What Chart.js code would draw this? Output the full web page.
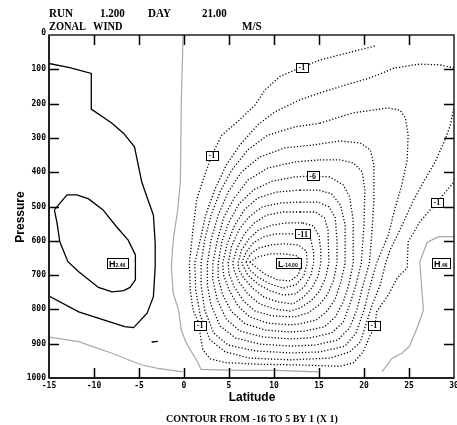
<!DOCTYPE html>
<html>
<head>
<meta charset="utf-8">
<script src="https://cdn.jsdelivr.net/npm/chart.js@4.4.1/dist/chart.umd.min.js"></script>
<style>
  html, body { margin: 0; padding: 0; background: #fff; }
  canvas { display: block; }
</style>
</head>
<body>
<canvas id="chart" width="457" height="425"></canvas>
<script>
'use strict';

// contour lines, each point is [latitude, pressure]
const neg1 = [[21.2,32],[17.3,58],[15.1,73],[12.9,96],[10.7,120],[9.0,160],[7.9,204],[5.9,254],[4.2,292],[3.1,350],[2.3,408],[1.4,481],[1.0,568],[0.6,665],[0.7,743],[1.0,802],[1.6,837],[1.9,889],[2.1,918],[2.9,944],[4.6,955],[8.4,960],[12.9,962],[17.3,966],[18.8,956],[19.9,924],[20.7,875],[21.2,851],[21.4,807],[22.7,758],[23.7,708],[24.8,679],[24.9,603],[26.2,545],[28.1,487],[30,429]]
const neg2 = [[30,96],[28.4,87],[26.2,85],[23.4,96],[20.7,125],[17.9,146],[15.1,169],[12.9,189],[10.1,224],[8.2,262],[6.2,321],[4.7,379],[3.4,452],[2.4,525],[1.8,598],[1.2,665],[1.3,743],[1.8,816],[2.9,889],[4.6,924],[7.3,942],[11.8,947],[16.2,942],[18.4,924],[19.6,895],[20.2,845],[20.9,787],[21.8,729],[22.4,665],[22.9,627],[24.0,568],[25.4,487],[26.6,429],[27.9,370],[29.0,306],[29.6,262],[30,210]]
const neg3 = [[15.1,257],[18.8,227],[22.6,213],[24.0,219],[24.6,242],[24.9,292],[24.8,364],[24.2,437],[23.4,510],[22.7,583],[21.4,665],[20.7,729],[20.0,802],[19.1,869],[17.9,907],[15.1,924],[11.8,927],[7.9,921],[4.9,904],[3.3,869],[2.3,802],[1.9,729],[1.9,665],[2.3,598],[3.0,525],[4.0,458],[5.3,394],[7.1,335],[9.3,292],[12.3,268],[15.1,257]]
const neg4 = [[14.3,321],[17.3,309],[19.6,315],[20.7,335],[21.1,379],[21.1,481],[20.9,568],[20.6,665],[19.9,729],[19.2,802],[18.4,854],[17.1,889],[14.6,904],[11.8,907],[8.4,901],[5.7,883],[4.0,848],[3.0,787],[2.6,729],[2.6,665],[3.0,598],[3.8,525],[4.9,458],[6.4,399],[8.4,356],[11.2,329],[14.3,321]]
const neg5 = [[15.1,364],[17.3,364],[18.8,373],[19.8,399],[20.1,452],[20.0,554],[19.7,665],[19.1,729],[18.4,787],[17.7,837],[16.4,869],[14.0,883],[11.8,886],[8.7,880],[6.2,863],[4.7,828],[3.7,772],[3.2,714],[3.2,665],[3.7,598],[4.4,533],[5.6,475],[7.1,423],[9.3,388],[12.3,370],[15.1,364]]
const neg6 = [[14.3,411],[16.2,414],[17.7,437],[18.4,472],[18.8,539],[18.8,665],[18.3,729],[17.7,778],[16.8,822],[15.6,851],[13.4,863],[11.8,866],[9.0,860],[6.8,842],[5.3,807],[4.3,758],[3.8,708],[3.8,665],[4.2,603],[5.0,545],[6.1,493],[7.7,452],[9.8,426],[12.3,414],[14.3,411]]
const neg7 = [[12.9,452],[14.9,452],[16.4,463],[17.4,496],[17.9,554],[17.9,665],[17.4,723],[16.8,770],[15.9,805],[14.7,831],[12.9,842],[11.8,845],[9.3,840],[7.3,822],[6.0,790],[5.0,743],[4.4,700],[4.3,665],[4.8,609],[5.6,557],[6.7,510],[8.2,475],[10.3,458],[12.9,452]]
const neg8 = [[12.9,487],[14.9,487],[16.1,501],[16.8,533],[17.0,598],[17.0,665],[16.6,717],[15.9,758],[15.0,787],[13.8,810],[12.3,822],[9.8,819],[7.9,805],[6.6,775],[5.6,735],[5.0,697],[4.9,665],[5.3,615],[6.1,568],[7.2,531],[8.7,501],[10.7,490],[12.9,487]]
const neg9 = [[12.9,516],[14.6,516],[15.6,533],[16.0,568],[16.1,665],[15.7,711],[15.0,749],[14.1,775],[12.9,796],[11.8,805],[10.1,799],[8.4,784],[7.1,755],[6.1,720],[5.6,688],[5.4,665],[5.9,621],[6.7,580],[7.8,548],[9.2,525],[11.0,516],[12.9,516]]
const neg10 = [[13.2,548],[14.4,557],[15.0,586],[15.2,627],[15.2,665],[14.9,703],[14.2,738],[13.3,764],[12.1,784],[10.4,778],[8.9,764],[7.7,740],[6.7,711],[6.1,685],[6.0,665],[6.4,627],[7.2,595],[8.3,568],[9.8,554],[11.4,548],[13.2,548]]
const neg11 = [[13.2,580],[14.1,598],[14.4,633],[14.4,665],[14.1,700],[13.4,732],[12.4,755],[11.0,758],[9.6,746],[8.2,726],[7.1,700],[6.4,665],[6.9,633],[7.7,606],[8.8,589],[10.2,580],[11.8,580],[13.2,580]]
const neg12 = [[6.9,662],[7.4,638],[8.3,621],[9.7,612],[11.2,609],[12.7,612],[13.6,630],[13.7,665],[13.3,703],[12.4,729],[11.0,738],[9.6,726],[8.2,706],[7.3,685],[6.9,662]]
const neg13 = [[7.3,662],[8.2,647],[9.6,638],[11.2,638],[12.6,644],[13.0,670],[12.7,700],[11.8,717],[10.4,714],[9.0,697],[7.3,662]]

const pos1 = [[-15,83],[-12.7,95],[-10.3,112],[-10.3,216],[-8.0,257],[-6.7,287],[-5.5,326],[-4.7,428],[-4.0,481],[-3.6,510],[-3.4,525],[-3.2,607],[-3.2,675],[-3.4,763],[-4.1,811],[-5.6,853],[-6.6,850],[-11.7,807],[-15,761]]
const pos2 = [[-14.4,510],[-13.0,466],[-11.9,466],[-10.6,478],[-9.0,510],[-7.5,559],[-6.2,598],[-5.4,641],[-5.4,714],[-6.0,736],[-6.7,745],[-8.0,749],[-9.5,736],[-11.7,690],[-12.9,661],[-13.8,603],[-14.1,549],[-14.4,510]]
const pos1Small = [[-3.6,895],[-2.9,893]]

const zeroLeft = [[-15,881],[-11.7,894],[-8.0,928],[-4.7,962],[-2.9,972],[-0.1,982]]
const zeroMid = [[-0.1,0],[-0.3,194],[-0.4,428],[-0.7,510],[-1.2,598],[-1.4,675],[-1.2,753],[-0.6,802],[-0.3,860],[0.2,895],[0.7,918],[1.4,948],[1.9,975],[6,978],[10,978],[14.9,982]]
const zeroRight = [[30,588],[28.3,588],[27.0,605],[26.2,661],[26.6,802],[25.9,855],[25.0,909],[24.2,928],[23.1,943],[22.0,982]]

// contour labels
const labelText = ['-1', '-1', '-6', '-11', '-1', '-1', '-1']
const labelLat = [13.1, 3.1, 14.3, 13.2, 1.8, 21.1, 28.1]
const labelP = [96, 350, 411, 580, 848, 848, 487]

// extremes: letter, value, position
const extremeKind = ['L', 'H', 'H']
const extremeValue = ['-14.00', '2.46', '.46']
const extremeLat = [11.6, -7.4, 28.6]
const extremeP = [665, 665, 665]

const latTicks = [-15, -10, -5, 0, 5, 10, 15, 20, 25, 30]
const pressureTicks = [0, 100, 200, 300, 400, 500, 600, 700, 800, 900, 1000]

const negative = [neg1, neg2, neg3, neg4, neg5, neg6, neg7, neg8, neg9, neg10, neg11, neg12, neg13]
const positive = [pos1, pos2, pos1Small]
const zero = [zeroLeft, zeroMid, zeroRight]

function toPoints(line) {
    return line.map((p) => ({ x: p[0], y: p[1] }))
}

const datasets = []
zero.forEach((line) => datasets.push({
    data: toPoints(line), borderColor: '#a8a8a8', borderWidth: 1.2
}))
positive.forEach((line) => datasets.push({
    data: toPoints(line), borderColor: '#000', borderWidth: 1.3
}))
negative.forEach((line) => datasets.push({
    data: toPoints(line), borderColor: '#000', borderWidth: 1.3, borderDash: [1.2, 2]
}))

// squeezed text, the plot lettering is tall and narrow
function narrowText(ctx, text, x, y, squeeze) {
    ctx.save()
    ctx.translate(x, y)
    ctx.scale(squeeze, 1)
    ctx.fillText(text, 0, 0)
    ctx.restore()
}

const decorations = {
    id: 'decorations',
    afterDatasetsDraw(chart) {
        const ctx = chart.ctx
        const xs = chart.scales.x, ys = chart.scales.y, a = chart.chartArea
        ctx.save()

        // contour labels
        ctx.textAlign = 'center'
        ctx.textBaseline = 'middle'
        ctx.font = 'bold 8px "Liberation Serif"'
        labelText.forEach((t, i) => {
            const px = xs.getPixelForValue(labelLat[i]), py = ys.getPixelForValue(labelP[i])
            const w = ctx.measureText(t).width + 5, h = 9
            ctx.fillStyle = '#fff'
            ctx.fillRect(px - w / 2, py - h / 2, w, h)
            ctx.strokeStyle = '#000'
            ctx.lineWidth = 1
            ctx.strokeRect(Math.round(px - w / 2) + 0.5, Math.round(py - h / 2) + 0.5, Math.round(w), h)
            ctx.fillStyle = '#000'
            ctx.fillText(t, px, py + 0.5)
        })

        // highs and lows
        extremeKind.forEach((k, i) => {
            const px = xs.getPixelForValue(extremeLat[i]), py = ys.getPixelForValue(extremeP[i])
            ctx.font = 'bold 9px "Liberation Sans"'
            const kw = ctx.measureText(k).width
            ctx.font = 'bold 5px "Liberation Sans"'
            const vw = ctx.measureText(extremeValue[i]).width
            const w = kw + vw + 5, h = 10
            const left = Math.round(px - w / 2), top = Math.round(py - h / 2)
            ctx.fillStyle = '#fff'
            ctx.fillRect(left, top, w, h)
            ctx.strokeStyle = '#000'
            ctx.lineWidth = 1
            ctx.strokeRect(left + 0.5, top + 0.5, Math.round(w), h)
            ctx.fillStyle = '#000'
            ctx.textAlign = 'left'
            ctx.textBaseline = 'alphabetic'
            ctx.font = 'bold 9px "Liberation Sans"'
            ctx.fillText(k, left + 2, top + 8.5)
            ctx.font = 'bold 5px "Liberation Sans"'
            ctx.fillText(extremeValue[i], left + 2 + kw, top + 9)
        })

        // frame
        ctx.strokeStyle = '#222'
        ctx.lineWidth = 1.5
        ctx.strokeRect(a.left, a.top, a.right - a.left, a.bottom - a.top)
        ctx.lineWidth = 2
        ctx.beginPath()
        ctx.moveTo(a.left, a.bottom)
        ctx.lineTo(a.right, a.bottom)
        ctx.moveTo(a.left, a.top)
        ctx.lineTo(a.left, a.bottom)
        ctx.stroke()

        // inward tick marks
        ctx.lineWidth = 1.5
        ctx.strokeStyle = '#000'
        ctx.beginPath()
        latTicks.slice(1, -1).forEach((v) => {
            const px = Math.round(xs.getPixelForValue(v)) + 0.5
            ctx.moveTo(px, a.bottom)
            ctx.lineTo(px, a.bottom - 10)
            ctx.moveTo(px, a.top)
            ctx.lineTo(px, a.top + 10)
        })
        pressureTicks.slice(1, -1).forEach((v) => {
            const py = Math.round(ys.getPixelForValue(v)) + 0.5
            ctx.moveTo(a.left, py)
            ctx.lineTo(a.left + 10, py)
            ctx.moveTo(a.right, py)
            ctx.lineTo(a.right - 10, py)
        })
        ctx.stroke()

        // tick labels
        ctx.fillStyle = '#000'
        ctx.font = 'bold 8px "DejaVu Sans Mono"'
        ctx.textAlign = 'right'
        ctx.textBaseline = 'middle'
        pressureTicks.forEach((v) => {
            const py = ys.getPixelForValue(v)
            ctx.fillText(String(v), a.left - 3, v === 0 ? py - 2 : py)
        })
        ctx.textAlign = 'center'
        latTicks.forEach((v) => {
            ctx.fillText(String(v), xs.getPixelForValue(v), a.bottom + 8)
        })

        // titles
        ctx.textAlign = 'left'
        ctx.textBaseline = 'alphabetic'
        ctx.font = 'bold 13px "Liberation Serif"'
        narrowText(ctx, 'RUN', 49, 17, 0.85)
        narrowText(ctx, '1.200', 100, 17, 0.85)
        narrowText(ctx, 'DAY', 148, 17, 0.85)
        narrowText(ctx, '21.00', 202, 17, 0.85)
        narrowText(ctx, 'ZONAL', 49, 30, 0.8)
        narrowText(ctx, 'WIND', 93, 30, 0.8)
        narrowText(ctx, 'M/S', 242, 30, 0.85)

        ctx.textAlign = 'center'
        ctx.font = 'bold 12px "Liberation Sans"'
        ctx.fillText('Latitude', 252, 401)
        ctx.save()
        ctx.translate(24, 217)
        ctx.rotate(-Math.PI / 2)
        ctx.fillText('Pressure', 0, 0)
        ctx.restore()

        ctx.font = 'bold 10px "Liberation Serif"'
        ctx.fillText('CONTOUR FROM -16 TO 5 BY 1 (X 1)', 252, 422)
        ctx.restore()
    }
}

new Chart(document.getElementById('chart').getContext('2d'), {
    type: 'scatter',
    data: { datasets: datasets },
    options: {
        responsive: false,
        animation: false,
        showLine: true,
        layout: { padding: { left: 49, top: 35, right: 3, bottom: 47 } },
        elements: {
            point: { radius: 0, hoverRadius: 0 },
            line: { tension: 0, fill: false }
        },
        plugins: { legend: { display: false }, tooltip: { enabled: false } },
        scales: {
            x: { type: 'linear', min: -15, max: 30, display: false },
            y: { type: 'linear', min: 0, max: 1000, reverse: true, display: false }
        }
    },
    plugins: [decorations]
})
</script>
</body>
</html>
